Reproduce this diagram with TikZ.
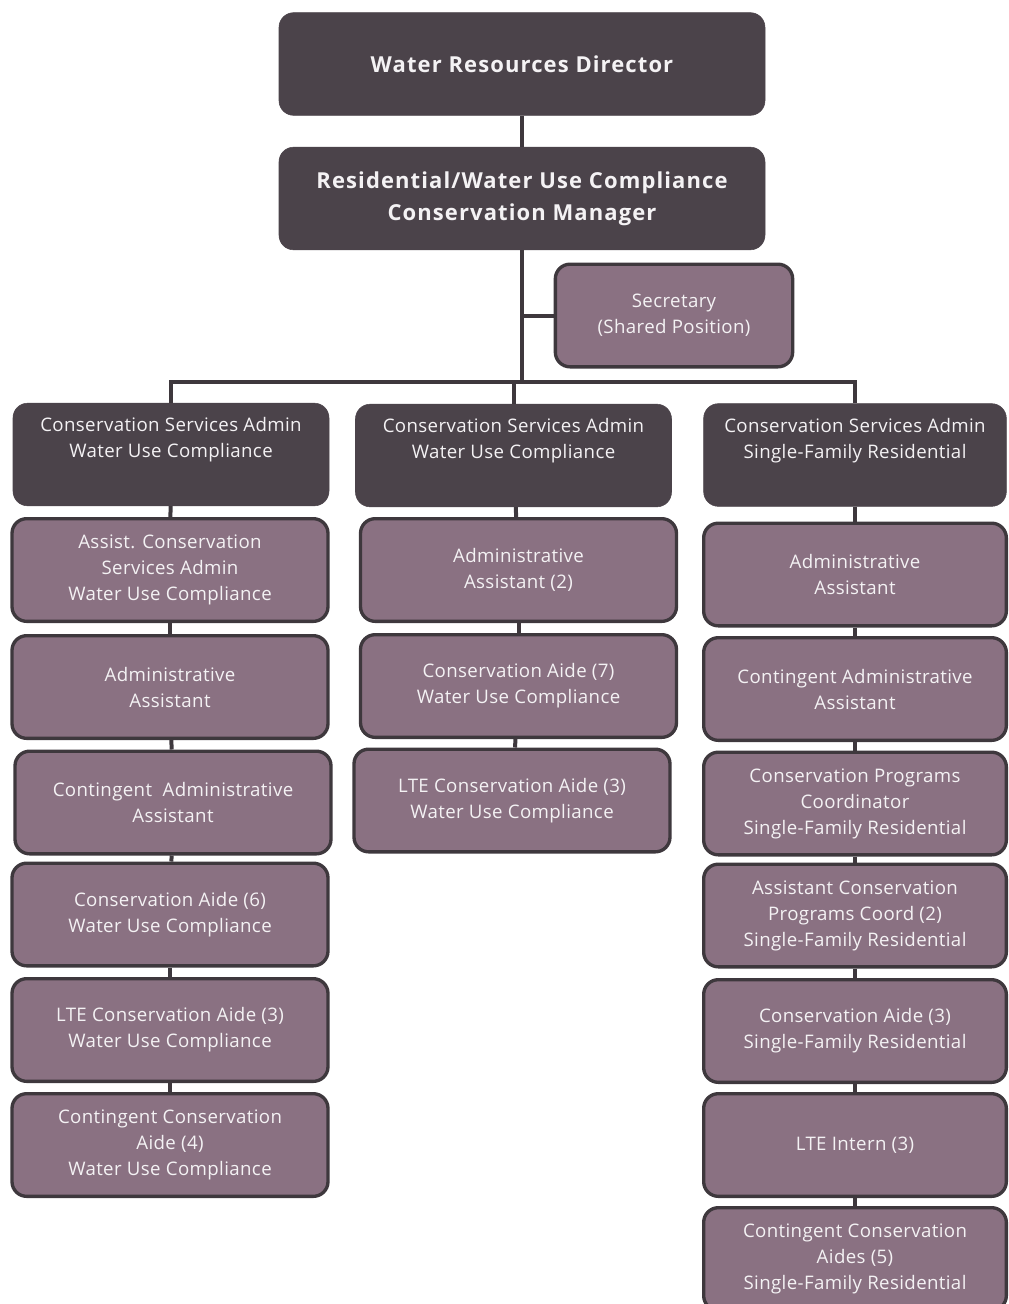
\documentclass[tikz,border=0pt]{standalone}
\usepackage{fontspec}
\setmainfont{Open Sans}
\definecolor{headfill}{HTML}{4B434A}
\definecolor{stafffill}{HTML}{8A7182}
\definecolor{rulecol}{HTML}{3E383D}
\definecolor{labeltext}{HTML}{F4F2F4}
\begin{document}
\begin{tikzpicture}
    [x=0.75pt, y=-0.75pt,
    head/.style={rounded corners=11pt, fill=headfill, draw=headfill, text=labeltext, align=center,
      minimum width=237pt, minimum height=77pt, inner sep=2pt, font=\fontsize{14}{19.5}\selectfont\addfontfeature{LetterSpace=2}},
    lead/.style={head, minimum width=364.5pt, font=\fontsize{16.5}{24}\selectfont\bfseries\addfontfeature{LetterSpace=5}},
    staff/.style={head, fill=stafffill, draw=rulecol, line width=2.5pt},
    link/.style={draw=rulecol, line width=3pt}]
     \useasboundingbox (0,0) rectangle (1008,1304);
     % top of the chart
     \node[lead] (dir) at (522, 64)    {Water Resources Director};
     \node[lead] (mgr) at (522, 198.5) {Residential/Water Use Compliance\\Conservation Manager};
     \node[staff, minimum width=178pt] (sec) at (674, 315.5) {Secretary\\(Shared Position)};
     \coordinate (bus) at (522, 382);
     % section heads
     \node[head] (hA) at (171, 454.5)  {Conservation Services Admin\\Water Use Compliance\\\strut};
     \node[head] (hB) at (513.5, 455.5) {Conservation Services Admin\\Water Use Compliance\\\strut};
     \node[head, minimum width=227pt] (hC) at (855, 455) {Conservation Services Admin\\Single-Family Residential\\\strut};
     % water use compliance (left)
     \node[staff] (a1) at (170, 570)    {Assist. Conservation\\Services Admin\\Water Use Compliance};
     \node[staff] (a2) at (170, 687)    {Administrative\\Assistant};
     \node[staff] (a3) at (173, 802.5)  {Contingent\ \ Administrative\\Assistant};
     \node[staff] (a4) at (170, 914.5)  {Conservation Aide (6)\\Water Use Compliance};
     \node[staff] (a5) at (170, 1030)   {LTE Conservation Aide (3)\\Water Use Compliance};
     \node[staff] (a6) at (170, 1145)   {Contingent Conservation\\Aide (4)\\Water Use Compliance};
     % water use compliance (middle)
     \node[staff] (b1) at (518.5, 570)  {Administrative\\Assistant (2)};
     \node[staff] (b2) at (518.5, 686)  {Conservation Aide (7)\\Water Use Compliance};
     \node[staff] (b3) at (512, 800.5)  {LTE Conservation Aide (3)\\Water Use Compliance};
     % single-family residential (right)
     \node[staff, minimum width=227pt] (c1) at (855, 574.5)  {Administrative\\Assistant};
     \node[staff, minimum width=227pt] (c2) at (855, 689)    {Contingent Administrative\\Assistant};
     \node[staff, minimum width=227pt] (c3) at (855, 803.5)  {Conservation Programs\\Coordinator\\Single-Family Residential};
     \node[staff, minimum width=227pt] (c4) at (855, 915.5)  {Assistant Conservation\\Programs Coord (2)\\Single-Family Residential};
     \node[staff, minimum width=227pt] (c5) at (855, 1031)   {Conservation Aide (3)\\Single-Family Residential};
     \node[staff, minimum width=227pt] (c6) at (855, 1145)   {LTE Intern (3)};
     \node[staff, minimum width=227pt] (c7) at (855, 1259)   {Contingent Conservation\\Aides (5)\\Single-Family Residential};
     % connectors
     \draw[link] (dir) -- (mgr);
     \draw[link] (mgr) -- (bus);
     \draw[link] (sec.west) -- (sec.west -| mgr.south);
     \draw[link] (hA.north) |- (bus) -| (hC.north);
     \draw[link] (hB.north) -- (hB.north |- bus);
     \draw[link] (hA) -- (a1);
     \draw[link] (a1) -- (a2);
     \draw[link] (a2) -- (a3);
     \draw[link] (a3) -- (a4);
     \draw[link] (a4) -- (a5);
     \draw[link] (a5) -- (a6);
     \draw[link] (hB) -- (b1);
     \draw[link] (b1) -- (b2);
     \draw[link] (b2) -- (b3);
     \draw[link] (hC) -- (c1);
     \draw[link] (c1) -- (c2);
     \draw[link] (c2) -- (c3);
     \draw[link] (c3) -- (c4);
     \draw[link] (c4) -- (c5);
     \draw[link] (c5) -- (c6);
     \draw[link] (c6) -- (c7);
\end{tikzpicture}
\end{document}
